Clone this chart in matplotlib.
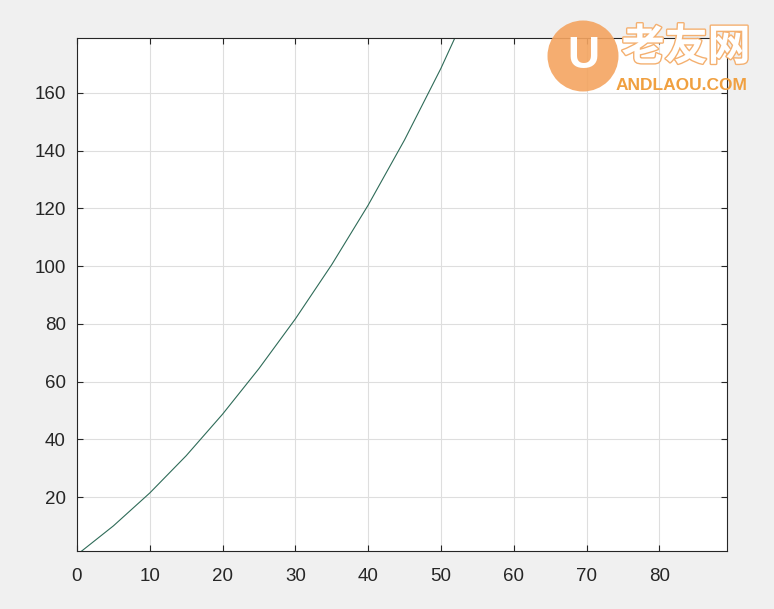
import matplotlib
matplotlib.use("Agg")
import matplotlib.pyplot as plt
from matplotlib.patches import Circle
import matplotlib.patheffects as pe

x_vals = [0, 5, 10, 15, 20, 25, 30, 35, 40, 45, 50, 52]
y_vals = [0.0, 10.0, 21.4, 34.3, 48.7, 64.5, 81.7, 100.5, 121.1, 143.7, 168.5, 179.5]
x_ticks = [0, 10, 20, 30, 40, 50, 60, 70, 80]
y_ticks = [20, 40, 60, 80, 100, 120, 140, 160]

plt.rcParams['font.family'] = ['Liberation Sans', 'Noto Sans CJK SC', 'DejaVu Sans']

fig = plt.figure(figsize=(7.74, 6.09), dpi=100, facecolor='#f0f0f0')
ax = fig.add_axes([77/774, 58/609, 650/774, 513/609])
ax.set_facecolor('white')
ax.plot(x_vals, y_vals, color='#2e6b58', linewidth=0.8)
ax.set_xlim(0, 89.3)
ax.set_ylim(1.3, 179)
ax.set_xticks(x_ticks)
ax.set_yticks(y_ticks)
ax.grid(True, color='#dedede', linewidth=0.8)
ax.set_axisbelow(True)
ax.tick_params(direction='in', length=4, width=0.8, labelsize=13.5, colors='#262626',
               top=True, right=True)
ax.tick_params(axis='x', pad=12)
ax.tick_params(axis='y', pad=8)
for s in ax.spines.values():
    s.set_color('#262626')
    s.set_linewidth(0.8)

# watermark
circ = Circle((5.83, (609 - 56) / 100), 0.355, transform=fig.dpi_scale_trans,
              facecolor='#f4a460', edgecolor='none', alpha=0.9, zorder=10)
fig.patches.append(circ)
fig.text(583/774, 1 - 56/609, 'U', ha='center', va='center',
         fontsize=32, fontweight='bold', color='white', zorder=11)
fig.text(686/774, 1 - 47/609, '老友网', ha='center', va='center', fontsize=31,
         fontweight='bold', color='white', family=['Noto Sans CJK SC'], zorder=11,
         path_effects=[pe.withStroke(linewidth=2, foreground='#f4b070')])
fig.text(681/774, 1 - 85/609, 'ANDLAOU.COM', ha='center', va='center', fontsize=12.5,
         fontweight='bold', color='#f0a040', zorder=11)

fig.savefig('out.png', dpi=100, facecolor=fig.get_facecolor())
